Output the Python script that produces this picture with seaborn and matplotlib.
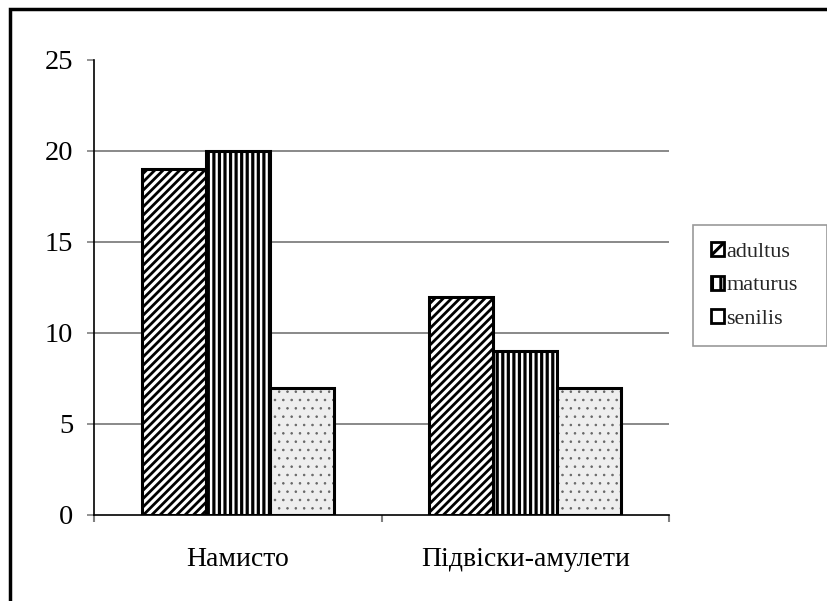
import matplotlib
matplotlib.use("Agg")
import matplotlib.pyplot as plt
import seaborn as sns
import pandas as pd
from matplotlib.patches import Patch, Rectangle

categories = ["Намисто", "Підвіски-амулети"]
series = ["adultus", "maturus", "senilis"]
adultus = [19, 12]
maturus = [20, 9]
senilis = [7, 7]
yticks = [0, 5, 10, 15, 20, 25]

df = pd.DataFrame({
    "category": categories * 3,
    "series": [s for s in series for _ in categories],
    "value": adultus + maturus + senilis,
})

sns.set_theme(style="white")
plt.rcParams["font.family"] = ["Liberation Serif", "DejaVu Serif"]
plt.rcParams["hatch.linewidth"] = 2.2

fig = plt.figure(figsize=(8.28, 6.01), dpi=100)
ax = fig.add_axes([0.1135, 0.1431, 0.6947, 0.7571])

sns.barplot(data=df, x="category", y="value", hue="series", order=categories,
            hue_order=series, palette=["white", "white", "#eeeeee"], saturation=1,
            width=0.668, edgecolor="black", linewidth=2.2, legend=False, ax=ax, zorder=3)

hatches = ["////", "|||", ".."]
hatch_lw = [2.0, 2.3, 0.6]
for cont, h, hl in zip(ax.containers, hatches, hatch_lw):
    for bar in cont:
        if hasattr(bar, "set_hatch_linewidth"):
            bar.set_hatch_linewidth(hl)
        if h == "..":
            # grey dots, black outline drawn on top
            bar.set_edgecolor("#666666")
            bar.set_linewidth(0)
            bar.set_hatch(h)
            ax.add_patch(Rectangle(bar.get_xy(), bar.get_width(), bar.get_height(),
                                   fill=False, edgecolor="black", linewidth=2.2, zorder=4))
        else:
            bar.set_hatch(h)

ax.set_ylim(0, 25)
ax.set_xlim(-0.5, 1.5)
ax.set_yticks(yticks)
ax.set_xlabel("")
ax.set_ylabel("")
ax.grid(axis="y", color="#808080", linewidth=1.3, zorder=0)
ax.set_axisbelow(True)
ax.yaxis.get_gridlines()[-1].set_visible(False)
ax.yaxis.get_gridlines()[0].set_visible(False)

for s in ["top", "right"]:
    ax.spines[s].set_visible(False)
for s in ["left", "bottom"]:
    ax.spines[s].set_color("black")
    ax.spines[s].set_linewidth(1.2)

ax.tick_params(axis="y", direction="out", length=5, width=1.2, color="#808080",
               labelsize=20.5, pad=10, left=True, labelcolor="black")
ax.tick_params(axis="x", which="major", length=0, labelsize=20, pad=23, labelcolor="black")
ax.set_xticks([-0.5, 0.5, 1.5], minor=True)
ax.tick_params(axis="x", which="minor", direction="out", length=5, width=1.5,
               color="#808080", bottom=True)

handles = [Patch(facecolor="white", edgecolor="black", hatch="//", linewidth=2),
           Patch(facecolor="white", edgecolor="black", hatch="||", linewidth=2),
           Patch(facecolor="white", edgecolor="black", linewidth=2)]
leg = fig.legend(handles, series, loc="center left",
                 bbox_to_anchor=(0.837, 0.423, 0.162, 0.204), mode="expand",
                 borderaxespad=0, fontsize=16, handlelength=0.6, handleheight=0.6,
                 handletextpad=0.1, labelspacing=0.6, borderpad=0.8,
                 frameon=True, fancybox=False, edgecolor="#808080")
leg.get_frame().set_linewidth(1.2)

# outer chart frame
fig.add_artist(Rectangle((0.0121, -0.5), 2, 1.485, transform=fig.transFigure,
                         fill=False, edgecolor="black", linewidth=2.5, clip_on=False))

fig.savefig("out.png", dpi=100)
